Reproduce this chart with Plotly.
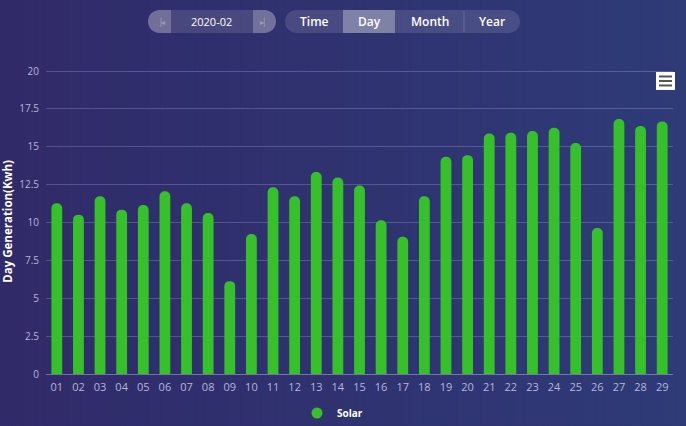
import plotly.graph_objects as go

# ---- data ----
days = ["01","02","03","04","05","06","07","08","09","10","11","12","13","14","15",
        "16","17","18","19","20","21","22","23","24","25","26","27","28","29"]
solar = [11.27, 10.52, 11.73, 10.85, 11.16, 12.07, 11.27, 10.63, 6.13, 9.24,
         12.33, 11.73, 13.34, 12.97, 12.44, 10.15, 9.06, 11.73, 14.34, 14.45,
         15.88, 15.93, 16.04, 16.26, 15.25, 9.64, 16.83, 16.37, 16.67]
y_ticks = [0, 2.5, 5, 7.5, 10, 12.5, 15, 17.5, 20]
y_tick_text = ["0", "2.5", "5", "7.5", "10", "12.5", "15", "17.5", "20"]
period_label = "2020-02"
tabs = ["Time", "Day", "Month", "Year"]
active_tab = "Day"

W, H = 686, 426
ML, MR, MT, MB = 46, 13, 70, 51.5
PW, PH = W - ML - MR, H - MT - MB
Y_MAX = 20.07
BAR_GREEN = "#36c12a"

def px(x):
    return (x - ML) / PW

def py(y):
    return (H - MB - y) / PH

def rounded_path(x0, x1, y0, y1, rl=True, rr=True):
    """Pixel path (relative to plot top-left, y up) for a rect with round ends."""
    r = (y1 - y0) / 2.0
    k = 0.5523 * r
    X = lambda v: v - ML
    Y = lambda v: MT - v
    p = []
    if rl:
        p.append("M %f,%f" % (X(x0 + r), Y(y0)))
    else:
        p.append("M %f,%f" % (X(x0), Y(y0)))
    if rr:
        p.append("L %f,%f" % (X(x1 - r), Y(y0)))
        p.append("C %f,%f %f,%f %f,%f" % (X(x1 - r + k), Y(y0), X(x1), Y(y0 + r - k), X(x1), Y(y0 + r)))
        p.append("C %f,%f %f,%f %f,%f" % (X(x1), Y(y0 + r + k), X(x1 - r + k), Y(y1), X(x1 - r), Y(y1)))
    else:
        p.append("L %f,%f" % (X(x1), Y(y0)))
        p.append("L %f,%f" % (X(x1), Y(y1)))
    if rl:
        p.append("L %f,%f" % (X(x0 + r), Y(y1)))
        p.append("C %f,%f %f,%f %f,%f" % (X(x0 + r - k), Y(y1), X(x0), Y(y1 - r + k), X(x0), Y(y1 - r)))
        p.append("C %f,%f %f,%f %f,%f" % (X(x0), Y(y0 + r - k), X(x0 + r - k), Y(y0), X(x0 + r), Y(y0)))
    else:
        p.append("L %f,%f" % (X(x0), Y(y1)))
    p.append("Z")
    return " ".join(p)

def pix_shape(path, color):
    return dict(type="path", xref="paper", yref="paper", xsizemode="pixel",
                ysizemode="pixel", xanchor=0, yanchor=1, path=path,
                fillcolor=color, line=dict(width=0))

fig = go.Figure()
fig.add_trace(go.Bar(
    x=days, y=solar, name="Solar", showlegend=False,
    marker=dict(color=BAR_GREEN, cornerradius="50%", line=dict(width=0)),
    hoverinfo="x+y",
))
fig.add_trace(go.Scatter(
    x=[None], y=[None], name="Solar", mode="markers",
    marker=dict(color=BAR_GREEN, size=11, symbol="circle"), showlegend=True,
))

shapes = []
# background gradient (left purple -> right blue)
n = 60
c0 = (49, 42, 105)
c1 = (46, 59, 119)
for i in range(n):
    t = i / (n - 1)
    c = tuple(round(c0[k] + (c1[k] - c0[k]) * t) for k in range(3))
    shapes.append(dict(type="rect", xref="paper", yref="paper", layer="below",
                       x0=px(W * i / n), x1=px(W * (i + 1) / n + 1),
                       y0=py(H), y1=py(0), line=dict(width=0),
                       fillcolor="rgb(%d,%d,%d)" % c))

# Date selector pill
shapes.append(pix_shape(rounded_path(148, 276, 10, 33), "rgba(255,255,255,0.12)"))
shapes.append(pix_shape(rounded_path(148, 171, 10, 33, rl=True, rr=False), "rgba(255,255,255,0.22)"))
shapes.append(pix_shape(rounded_path(253, 276, 10, 33, rl=False, rr=True), "rgba(255,255,255,0.22)"))
# Tabs pill
shapes.append(pix_shape(rounded_path(285, 520, 10, 33), "rgba(255,255,255,0.12)"))
shapes.append(pix_shape(rounded_path(343, 395, 10, 33, rl=False, rr=False), "rgba(255,255,255,0.30)"))
shapes.append(dict(type="line", xref="paper", yref="paper", x0=px(464), x1=px(464),
                   y0=py(32), y1=py(11), line=dict(color="rgba(255,255,255,0.18)", width=1)))
# Menu icon
shapes.append(dict(type="rect", xref="paper", yref="paper", x0=px(656), x1=px(675),
                   y0=py(90), y1=py(72), fillcolor="white", line=dict(width=0)))
for yy in (76.5, 81, 85.5):
    shapes.append(dict(type="line", xref="paper", yref="paper", x0=px(659), x1=px(672),
                       y0=py(yy), y1=py(yy), line=dict(color="#555555", width=2)))

annotations = [
    dict(text=period_label, x=px(212), y=py(21.5), xref="paper", yref="paper",
         xanchor="center", yanchor="middle",
         showarrow=False, font=dict(color="white", size=11, family="Open Sans")),
    dict(text="▕◂", x=px(159.5), y=py(21.5), xref="paper", yref="paper",
         xanchor="center", yanchor="middle",
         showarrow=False, font=dict(color="rgba(255,255,255,0.3)", size=8)),
    dict(text="▸▏", x=px(264.5), y=py(21.5), xref="paper", yref="paper",
         xanchor="center", yanchor="middle",
         showarrow=False, font=dict(color="rgba(255,255,255,0.3)", size=8)),
]
tab_centers = [314, 369, 430, 492]
for t, cx in zip(tabs, tab_centers):
    annotations.append(dict(text=t, x=px(cx), y=py(21.5), xref="paper", yref="paper",
                            xanchor="center", yanchor="middle", showarrow=False,
                            font=dict(color="white", size=12, family="Open Sans",
                                      weight=600)))
annotations.append(dict(text="<b>Day Generation(Kwh)</b>", textangle=-90,
                        x=px(8), y=py(222), xref="paper", yref="paper",
                        xanchor="center", yanchor="middle", showarrow=False,
                        font=dict(color="white", size=11.5, family="Open Sans")))

fig.update_layout(
    width=W, height=H,
    margin=dict(l=ML, r=MR, t=MT, b=MB, pad=0, autoexpand=False),
    paper_bgcolor="#302d6e", plot_bgcolor="rgba(0,0,0,0)",
    bargap=0.5,
    shapes=shapes, annotations=annotations,
    showlegend=True,
    legend=dict(orientation="h", x=0.5 - 27 / PW, xanchor="center",
                yref="container", y=(H - 413) / H, yanchor="middle",
                font=dict(color="white", size=10, family="Open Sans", weight="bold"),
                itemwidth=30, bgcolor="rgba(0,0,0,0)"),
    xaxis=dict(type="category", showgrid=False, showline=True,
               linecolor="rgba(200,200,230,0.45)", linewidth=1,
               tickfont=dict(color="#b4b6dc", size=11, family="Open Sans"),
               ticks="", ticklabelstandoff=3, fixedrange=True, automargin=False),
    yaxis=dict(range=[0, Y_MAX], tickvals=y_ticks, ticktext=y_tick_text,
               showgrid=True, gridcolor="rgba(200,200,240,0.25)", gridwidth=1,
               zeroline=False, showline=False, ticks="",
               tickfont=dict(color="#b4b6dc", size=10, family="Open Sans"),
               ticklabelstandoff=6, fixedrange=True, automargin=False),
    font=dict(family="Open Sans"),
)

fig.write_html("out.html", config={"displayModeBar": False},
               post_script="document.body.style.margin='0';document.body.style.overflow='hidden';")
